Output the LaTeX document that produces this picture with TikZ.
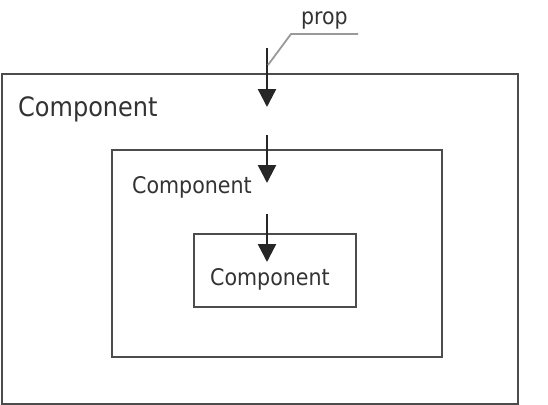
\documentclass[tikz,border=0pt]{standalone}
\usepackage{fontspec}
\setmainfont{DejaVu Sans Condensed}
\usetikzlibrary{arrows.meta,positioning}

\begin{document}
\begin{tikzpicture}[x=1pt,y=-1pt, box/.style={draw=black!70,line width=2.4pt,anchor=north west,inner sep=0pt},
  lbl/.style={anchor=base west,inner sep=0pt,text=black!80},
  pass/.style={-{Triangle[length=18pt,width=18pt]},line width=2.4pt,draw=black!85,fill=black!85}]
              \useasboundingbox (0,0) rectangle (548,404);
              \node[box,minimum width=516pt,minimum height=330pt] (outer) at (1,73) {};
              \node[box,minimum width=330pt,minimum height=207pt] (middle) at (111,149) {};
              \node[box,minimum width=162pt,minimum height=73pt] (inner) at (193,233) {};

              \node[lbl,font=\fontsize{26.7}{30}\selectfont] (outerlbl) at (18,116) {Component};
              \node[lbl,font=\fontsize{22.9}{26}\selectfont] (middlelbl) at (132,193) {Component};
              \node[lbl,font=\fontsize{22.9}{26}\selectfont] (innerlbl) at (210,285) {Component};
              \node[lbl,font=\fontsize{22.8}{26}\selectfont] (proplbl) at (301,25) {prop};

              \coordinate (a0) at (267,48);  \coordinate (a1) at (267,107);
              \coordinate (b0) at (267,135); \coordinate (b1) at (267,183);
              \coordinate (c0) at (267,214); \coordinate (c1) at (267,262);
              \coordinate (k0) at (268,65);  \coordinate (k1) at (291,34); \coordinate (k2) at (358,34);

              \draw[pass] (a0) -- (a1);
              \draw[pass] (b0) -- (b1);
              \draw[pass] (c0) -- (c1);
              \draw[black!40,line width=1.8pt] (k0) -- (k1) -- (k2);
            \end{tikzpicture}
\end{document}
